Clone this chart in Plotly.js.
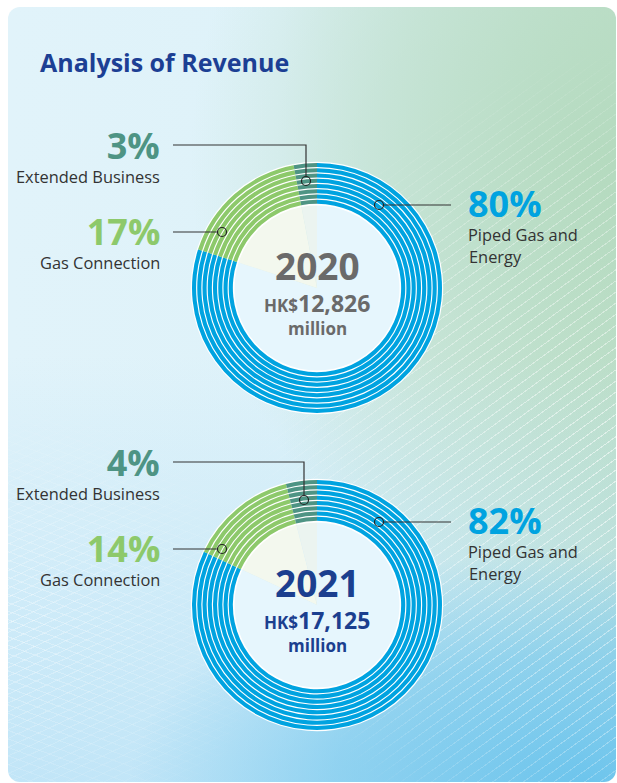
<!DOCTYPE html>
<html>
<head>
<meta charset="utf-8">
<script src="https://cdn.plot.ly/plotly-3.0.1.min.js"></script>
<style>
  html, body { margin:0; padding:0; width:617px; height:783px; overflow:hidden; background:#ffffff; }
  #card {
    position:absolute; left:8px; top:7px; width:608px; height:775px; border-radius:12px; overflow:hidden;
    background:
      radial-gradient(ellipse 75% 30% at 95% 100%, rgba(105,195,236,0.95) 0%, rgba(105,195,236,0.55) 55%, rgba(105,195,236,0) 100%),
      linear-gradient(to bottom, rgba(196,230,247,0) 45%, rgba(188,227,247,0.85) 100%),
      radial-gradient(ellipse 70% 60% at 100% 20%, rgba(180,218,190,0.95) 0%, rgba(188,222,200,0.6) 55%, rgba(200,230,220,0) 100%),
      linear-gradient(90deg, #e1f3fa 0%, #def2f9 45%, #cde8e0 80%, #bfe0cc 100%);
  }
  #lines {
    position:absolute; left:0; top:0; width:100%; height:100%;
    background: repeating-linear-gradient(-36deg, rgba(255,255,255,0.55) 0px, rgba(255,255,255,0.55) 1px, rgba(255,255,255,0) 1px, rgba(255,255,255,0) 9px);
    -webkit-mask-image: radial-gradient(ellipse 60% 55% at 100% 60%, rgba(0,0,0,1) 0%, rgba(0,0,0,0.6) 60%, rgba(0,0,0,0) 100%);
    mask-image: radial-gradient(ellipse 60% 55% at 100% 60%, rgba(0,0,0,1) 0%, rgba(0,0,0,0.6) 60%, rgba(0,0,0,0) 100%);
  }
  #lines2 {
    position:absolute; left:0; top:0; width:100%; height:100%;
    background:
      repeating-linear-gradient(20deg, rgba(255,255,255,0.35) 0px, rgba(255,255,255,0.35) 1px, rgba(255,255,255,0) 1px, rgba(255,255,255,0) 8px),
      repeating-linear-gradient(-25deg, rgba(255,255,255,0.35) 0px, rgba(255,255,255,0.35) 1px, rgba(255,255,255,0) 1px, rgba(255,255,255,0) 8px);
    -webkit-mask-image: radial-gradient(ellipse 45% 30% at 0% 80%, rgba(0,0,0,1) 0%, rgba(0,0,0,0) 100%);
    mask-image: radial-gradient(ellipse 45% 30% at 0% 80%, rgba(0,0,0,1) 0%, rgba(0,0,0,0) 100%);
  }
  #chart { position:absolute; left:0; top:0; width:617px; height:783px; }
</style>
</head>
<body>
<div id="card"><div id="lines"></div><div id="lines2"></div></div>
<div id="chart"></div>
<script>
// ---- data ----
const categories = ['Piped Gas and Energy', 'Gas Connection', 'Extended Business'];
const years = ['2020', '2021'];
const share2020 = [80, 17, 3];
const share2021 = [82, 14, 4];
const revenueHKDm = ['12,826', '17,125'];
const shares = [share2020, share2021];

// ---- styling ----
const W = 617, H = 783;
const ringColors = ['#00a3e0', '#8dc96b', '#4e9484'];
const wedgeColors = ['#e6f6fd', '#f3f8ee', '#ebf4f0'];
const pctColors = ['#00a3e0', '#8dc96b', '#4e9484'];
const centerColors = ['#6a6a6a', '#1b3f8f'];
const FONT = 'Open Sans, Noto Sans, sans-serif';
const centers = [[317, 288], [317, 605]];
const R_OUT = 125, R_IN = 83, N_RINGS = 8;

function px(x) { return x / W; }
function py(y) { return 1 - y / H; }
function dom(cx, cy, r) {
  return { x: [px(cx - r), px(cx + r)], y: [py(cy + r), py(cy - r)] };
}

const traces = [];
const shapes = [];
const annotations = [];

function addText(text, x, y, size, color, anchor) {
  annotations.push({
    text: text, x: px(x), y: py(y), xref: 'paper', yref: 'paper',
    xanchor: anchor, yanchor: 'middle', align: anchor === 'center' ? 'center' : anchor,
    showarrow: false, borderpad: 0,
    font: { family: FONT, size: size, color: color }
  });
}
// percentage + category name as one two-line block
function addLabel(pct, name, color, x, yPct, anchor) {
  const txt = '<span style="font-size:36px;color:' + color + '"><b>' + pct + '%</b></span><br>' +
              '<span style="font-size:16.4px">' + name + '</span>';
  addText(txt, x, yPct + 8.9, 18.2, '#333333', anchor);
}

years.forEach((yr, i) => {
  const [cx, cy] = centers[i];
  const vals = shares[i];
  const common = {
    type: 'pie', values: vals, labels: categories, sort: false,
    direction: 'clockwise', rotation: 0, textinfo: 'none',
    hoverinfo: 'skip', showlegend: false
  };
  // inner pale wedges
  traces.push(Object.assign({}, common, {
    domain: dom(cx, cy, R_IN + 0.5), hole: 0,
    marker: { colors: wedgeColors, line: { width: 0 } }
  }));
  // white underlay for ring gaps
  traces.push(Object.assign({}, common, {
    domain: dom(cx, cy, R_OUT + 1.2), hole: (R_IN - 0.5) / (R_OUT + 1.2),
    marker: { colors: ['#ffffff', '#ffffff', '#ffffff'], line: { width: 0 } }
  }));
  // concentric striped rings
  const period = (R_OUT - R_IN) / N_RINGS;
  const thick = period * 0.78;
  for (let k = 0; k < N_RINGS; k++) {
    const ro = R_OUT - k * period;
    traces.push(Object.assign({}, common, {
      domain: dom(cx, cy, ro), hole: (ro - thick) / ro,
      marker: { colors: ringColors, line: { width: 0 } }
    }));
  }

  // center text
  const cc = centerColors[i];
  addText('<b>' + yr + '</b>', cx, cy - 23, 37, cc, 'center');
  addText('<b>HK$<span style="font-size:23px">' + revenueHKDm[i] + '</span></b>', cx, cy + 15, 17, cc, 'center');
  addText('<b>million</b>', cx, cy + 40, 17, cc, 'center');

  // labels
  addLabel(vals[2], categories[2], pctColors[2], 161, cy - 142, 'right');
  addLabel(vals[1], categories[1], pctColors[1], 161, cy - 56, 'right');
  addLabel(vals[0], 'Piped Gas and', pctColors[0], 467, cy - 84, 'left');
  addText('Energy', 468, cy - 32, 16.4, '#333333', 'left');

  // leader lines
  const lc = '#333333';
  const extX = i === 0 ? 306 : 304;
  const extY = i === 0 ? cy - 107 : cy - 105;
  shapes.push({ type: 'path', xref: 'paper', yref: 'paper',
    path: 'M' + px(173) + ',' + py(cy - 143) + ' L' + px(extX) + ',' + py(cy - 143) + ' L' + px(extX) + ',' + py(extY - 4.5),
    line: { color: lc, width: 1.2 } });
  shapes.push({ type: 'line', xref: 'paper', yref: 'paper',
    x0: px(173), x1: px(cx - 95 - 4.5), y0: py(cy - 56), y1: py(cy - 56),
    line: { color: lc, width: 1.2 } });
  shapes.push({ type: 'line', xref: 'paper', yref: 'paper',
    x0: px(cx + 62 + 4.5), x1: px(451), y0: py(cy - 83), y1: py(cy - 83),
    line: { color: lc, width: 1.2 } });
  [[extX, extY], [cx - 95, cy - 56], [cx + 62, cy - 83]].forEach(([x, y]) => {
    shapes.push({ type: 'circle', xref: 'paper', yref: 'paper',
      x0: px(x - 4.5), x1: px(x + 4.5), y0: py(y + 4.5), y1: py(y - 4.5),
      line: { color: '#222222', width: 1.2 }, fillcolor: 'rgba(0,0,0,0)' });
  });
});

// title
annotations.push({
  text: '<b>Analysis of Revenue</b>', x: px(38), y: py(62), xref: 'paper', yref: 'paper',
  xanchor: 'left', yanchor: 'middle', showarrow: false,
  font: { family: FONT, size: 25, color: '#1c3f94' }
});

const layout = {
  width: W, height: H, margin: { l: 0, r: 0, t: 0, b: 0 },
  paper_bgcolor: 'rgba(0,0,0,0)', plot_bgcolor: 'rgba(0,0,0,0)',
  showlegend: false, shapes: shapes, annotations: annotations
};
Plotly.newPlot('chart', traces, layout, { displayModeBar: false, staticPlot: true });
</script>
</body>
</html>
